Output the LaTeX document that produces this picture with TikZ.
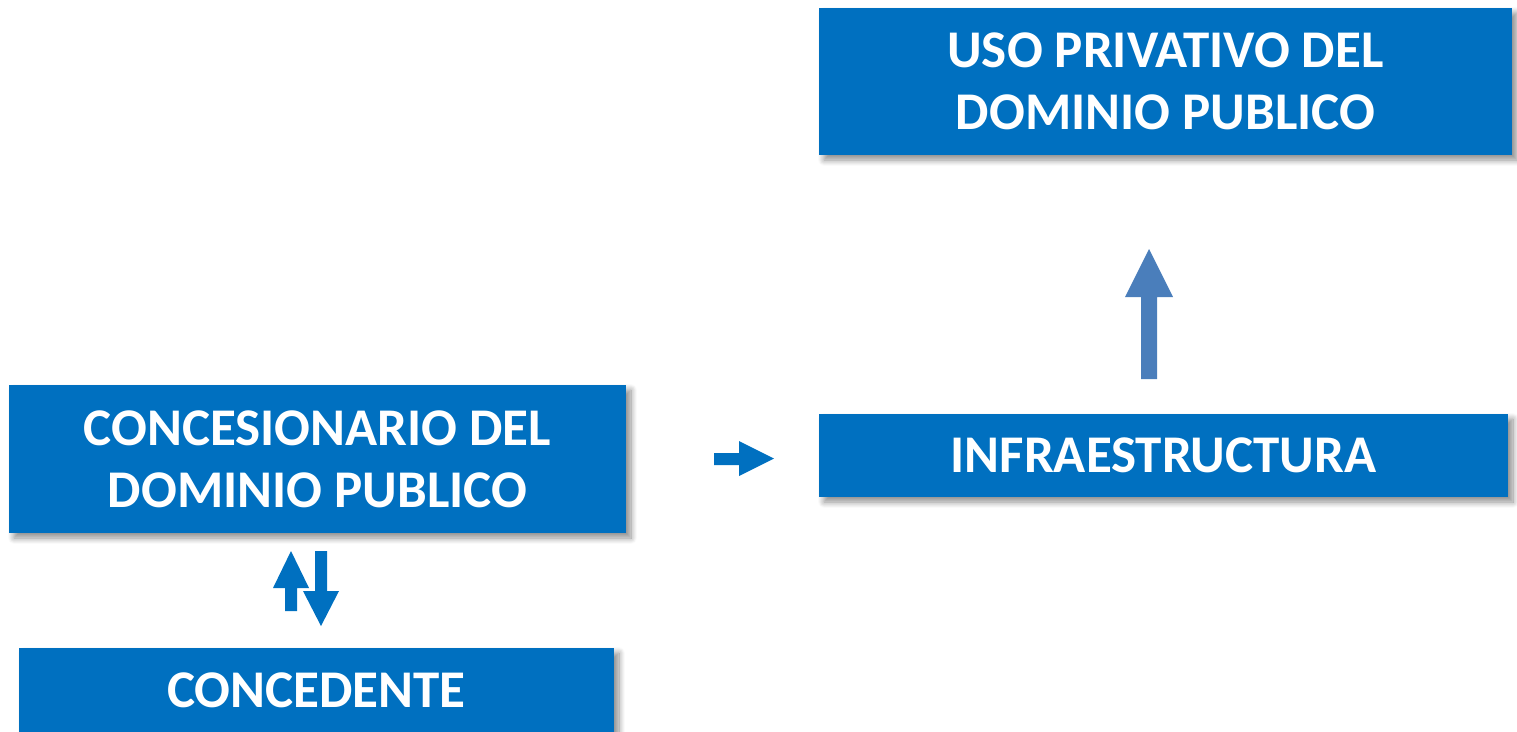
\documentclass[tikz,border=0pt]{standalone}
\usepackage{fontspec}
\setmainfont{Carlito}
\usetikzlibrary{shadows.blur}
\definecolor{boxblue}{HTML}{0070C0}
\definecolor{arrblue}{HTML}{4A7EBB}
\begin{document}
\begin{tikzpicture}[x=1pt,y=-1pt,
  box/.style={fill=boxblue, inner sep=0pt, text=white, align=center,
    font=\fontsize{53}{62}\selectfont\bfseries,
    blur shadow={shadow xshift=5pt, shadow yshift=-5pt, shadow blur radius=6pt, shadow blur steps=10, shadow opacity=45}},
  barrow/.style={fill=boxblue, draw=none},
  garrow/.style={fill=arrblue, draw=none}]
\useasboundingbox (0,0) rectangle (1517,731);
\node[box, minimum width=693pt, minimum height=147pt] (uso) at (1165.5,81.5) {USO PRIVATIVO DEL\\DOMINIO PUBLICO};
\node[box, minimum width=617pt, minimum height=148pt] (conc) at (317.5,459) {CONCESIONARIO DEL\\DOMINIO PUBLICO};
\node[box, minimum width=689pt, minimum height=83pt] (infra) at (1163.5,455.5) {INFRAESTRUCTURA};
\node[box, minimum width=595pt, minimum height=84pt] (ced) at (316.5,690) {CONCEDENTE};
% up arrow (small)
\fill[barrow] (291,551) -- (309,588) -- (297,588) -- (297,611) -- (285,611) -- (285,588) -- (273,588) -- cycle;
% down arrow
\fill[barrow] (315,551) -- (327,551) -- (327,591) -- (339,591) -- (321,626) -- (303,591) -- (315,591) -- cycle;
% right arrow
\fill[barrow] (714,453) -- (739,453) -- (739,441) -- (774,458.5) -- (739,476) -- (739,465) -- (714,465) -- cycle;
% big up arrow
\fill[garrow] (1149,249) -- (1173,297) -- (1157,297) -- (1157,379) -- (1141,379) -- (1141,297) -- (1125,297) -- cycle;
\end{tikzpicture}
\end{document}
